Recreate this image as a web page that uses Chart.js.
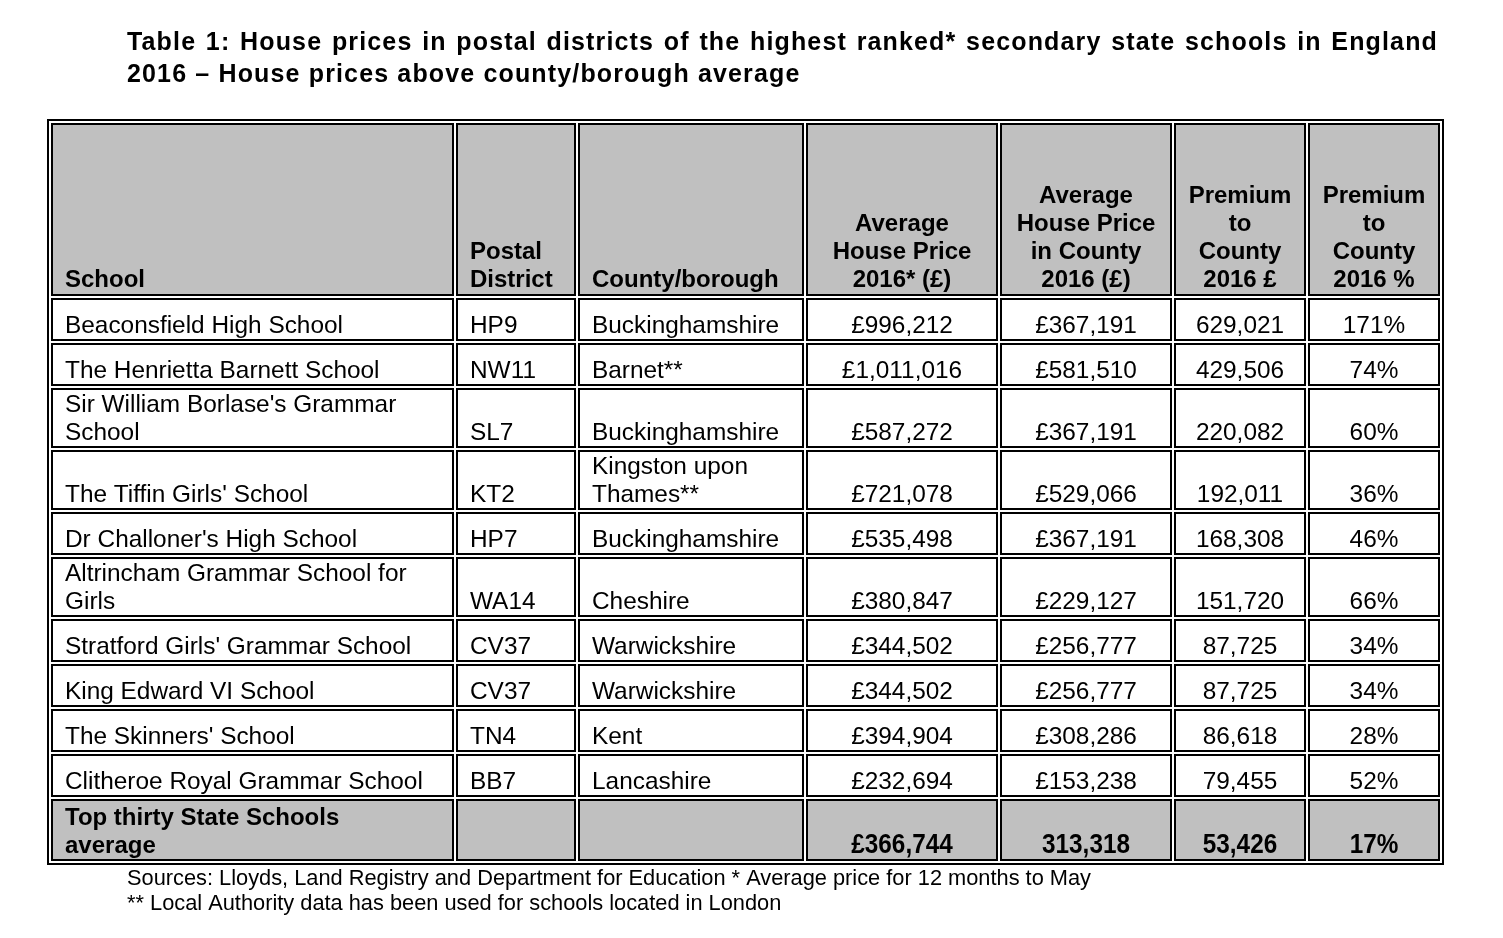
<!DOCTYPE html>
<html>
<head>
<meta charset="utf-8">
<script src="https://cdn.jsdelivr.net/npm/chart.js@4"></script>
<style>
html,body{margin:0;padding:0;background:#fff;}
canvas{display:block;}
</style>
</head>
<body>
<canvas id="c" width="1503" height="938"></canvas>
<script>
// ---------- DATA ----------
const titleLines = [
  "Table 1: House prices in postal districts of the highest ranked* secondary state schools in England",
  "2016 \u2013 House prices above county/borough average"
];
const headers = [
  "School",
  "Postal\nDistrict",
  "County/borough",
  "Average\nHouse Price\n2016* (\u00a3)",
  "Average\nHouse Price\nin County\n2016 (\u00a3)",
  "Premium\nto\nCounty\n2016 \u00a3",
  "Premium\nto\nCounty\n2016 %"
];
const schools = [
  "Beaconsfield High School",
  "The Henrietta Barnett School",
  "Sir William Borlase's Grammar\nSchool",
  "The Tiffin Girls' School",
  "Dr Challoner's High School",
  "Altrincham Grammar School for\nGirls",
  "Stratford Girls' Grammar School",
  "King Edward VI School",
  "The Skinners' School",
  "Clitheroe Royal Grammar School"
];
const districts = ["HP9","NW11","SL7","KT2","HP7","WA14","CV37","CV37","TN4","BB7"];
const counties = ["Buckinghamshire","Barnet**","Buckinghamshire","Kingston upon\nThames**","Buckinghamshire","Cheshire","Warwickshire","Warwickshire","Kent","Lancashire"];
const avgPrice = [996212, 1011016, 587272, 721078, 535498, 380847, 344502, 344502, 394904, 232694];
const countyPrice = [367191, 581510, 367191, 529066, 367191, 229127, 256777, 256777, 308286, 153238];
const premium = [629021, 429506, 220082, 192011, 168308, 151720, 87725, 87725, 86618, 79455];
const premiumPct = [171, 74, 60, 36, 46, 66, 34, 34, 28, 52];
const totalLabel = "Top thirty State Schools\naverage";
const totalAvgPrice = 366744;
const totalCountyPrice = 313318;
const totalPremium = 53426;
const totalPremiumPct = 17;
const footnotes = [
  "Sources: Lloyds, Land Registry and Department for Education * Average price for 12 months to May",
  "** Local Authority data has been used for schools located in London"
];

// ---------- LAYOUT / STYLE ----------
const COL_W = [403, 120, 226, 192, 172, 132, 132];
const COL_ALIGN = ["left","left","left","center","center","center","center"];
const GAP = 2;
const HEADER_H = 173, ROW1_H = 43, ROW2_H = 60, FOOT_H = 62;
const GREY = "#c0c0c0";
const FONT = "'Liberation Sans', Arial, sans-serif";

const fmt = n => n.toLocaleString('en-GB');
const gbp = n => "\u00a3" + fmt(n);

// build the row table from the arrays
const bodyRows = schools.map((s, i) => [
  s, districts[i], counties[i], gbp(avgPrice[i]), gbp(countyPrice[i]), fmt(premium[i]), premiumPct[i] + "%"
]);
const footRow = [totalLabel, "", "", gbp(totalAvgPrice), fmt(totalCountyPrice), fmt(totalPremium), totalPremiumPct + "%"];

const rowDefs = [];
rowDefs.push({cells: headers, h: HEADER_H, kind: "head"});
bodyRows.forEach(r => {
  const lines = Math.max(...r.map(t => t.split("\n").length));
  rowDefs.push({cells: r, h: lines > 1 ? ROW2_H : ROW1_H, kind: "body"});
});
rowDefs.push({cells: footRow, h: FOOT_H, kind: "foot"});

const colStart = [];
{ let acc = 0; COL_W.forEach(w => { colStart.push(acc); acc += w + GAP; }); }
const TABLE_W = COL_W.reduce((a,b)=>a+b,0) + GAP*(COL_W.length-1);
const rowStart = [];
{ let acc = 0; rowDefs.forEach(r => { rowStart.push(acc); acc += r.h + GAP; }); }
const TABLE_H = rowDefs.reduce((a,r)=>a+r.h,0) + GAP*(rowDefs.length-1);

function drawJustified(ctx, text, x0, x1, y) {
  const words = text.split(" ");
  const widths = words.map(w => ctx.measureText(w).width);
  const sum = widths.reduce((a,b)=>a+b,0);
  const sp = (x1 - x0 - sum) / (words.length - 1);
  let x = x0;
  words.forEach((w, i) => { ctx.fillText(w, x, y); x += widths[i] + sp; });
}

const tablePlugin = {
  id: "tablePlugin",
  afterDraw(chart) {
    const ctx = chart.ctx;
    const xs = chart.scales.x, ys = chart.scales.y;
    ctx.save();
    // title
    ctx.fillStyle = "#000";
    ctx.textBaseline = "alphabetic";
    ctx.textAlign = "left";
    ctx.font = "bold 25px " + FONT;
    if ('letterSpacing' in ctx) ctx.letterSpacing = "1.15px";
    drawJustified(ctx, titleLines[0], 127, 1438, 50);
    ctx.fillText(titleLines[1], 127, 82);
    if ('letterSpacing' in ctx) ctx.letterSpacing = "0px";

    // outer frame
    const L = xs.getPixelForValue(0), R = xs.getPixelForValue(TABLE_W);
    const T = ys.getPixelForValue(0), B = ys.getPixelForValue(TABLE_H);
    ctx.strokeStyle = "#000";
    ctx.lineWidth = 2;
    ctx.strokeRect(L - 3, T - 3, (R - L) + 6, (B - T) + 6);

    rowDefs.forEach((row, ri) => {
      const y0 = ys.getPixelForValue(rowStart[ri]);
      const y1 = ys.getPixelForValue(rowStart[ri] + row.h);
      row.cells.forEach((txt, ci) => {
        const x0 = xs.getPixelForValue(colStart[ci]);
        const x1 = xs.getPixelForValue(colStart[ci] + COL_W[ci]);
        if (row.kind !== "body") { ctx.fillStyle = GREY; ctx.fillRect(x0, y0, x1 - x0, y1 - y0); }
        ctx.strokeStyle = "#000"; ctx.lineWidth = 2;
        ctx.strokeRect(x0 + 1, y0 + 1, x1 - x0 - 2, y1 - y0 - 2);
        if (!txt) return;
        ctx.fillStyle = "#000";
        let sx = 1;
        if (row.kind === "head") ctx.font = "bold 24px " + FONT;
        else if (row.kind === "foot") {
          if (ci >= 3) { ctx.font = "bold 27px " + FONT; sx = 0.9; }
          else ctx.font = "bold 24px " + FONT;
        }
        else ctx.font = "24.4px " + FONT;
        const lines = txt.split("\n");
        const base = y1 - (row.kind === "head" ? 9 : 8);
        lines.forEach((ln, li) => {
          const y = base - (lines.length - 1 - li) * 28;
          if (COL_ALIGN[ci] === "left") { ctx.textAlign = "left"; ctx.fillText(ln, x0 + 14, y); }
          else {
            ctx.textAlign = "center";
            const cx = (x0 + x1) / 2;
            if (sx !== 1) {
              ctx.save(); ctx.translate(cx, y); ctx.scale(sx, 1); ctx.fillText(ln, 0, 0); ctx.restore();
            } else ctx.fillText(ln, cx, y);
          }
        });
      });
    });

    // footnotes
    ctx.textAlign = "left";
    ctx.fillStyle = "#000";
    ctx.font = "21.8px " + FONT;
    ctx.fillText(footnotes[0], 127, 885);
    ctx.fillText(footnotes[1], 127, 910);
    ctx.restore();
  }
};

new Chart(document.getElementById("c"), {
  type: "scatter",
  data: { datasets: [] },
  options: {
    responsive: false,
    animation: false,
    events: [],
    layout: { padding: { left: 51, top: 123, right: 1503 - 1440, bottom: 938 - 861 } },
    plugins: { legend: { display: false }, tooltip: { enabled: false }, title: { display: false } },
    scales: {
      x: { type: "linear", min: 0, max: TABLE_W, display: false },
      y: { type: "linear", min: 0, max: TABLE_H, reverse: true, display: false }
    }
  },
  plugins: [tablePlugin]
});
</script>
</body>
</html>
